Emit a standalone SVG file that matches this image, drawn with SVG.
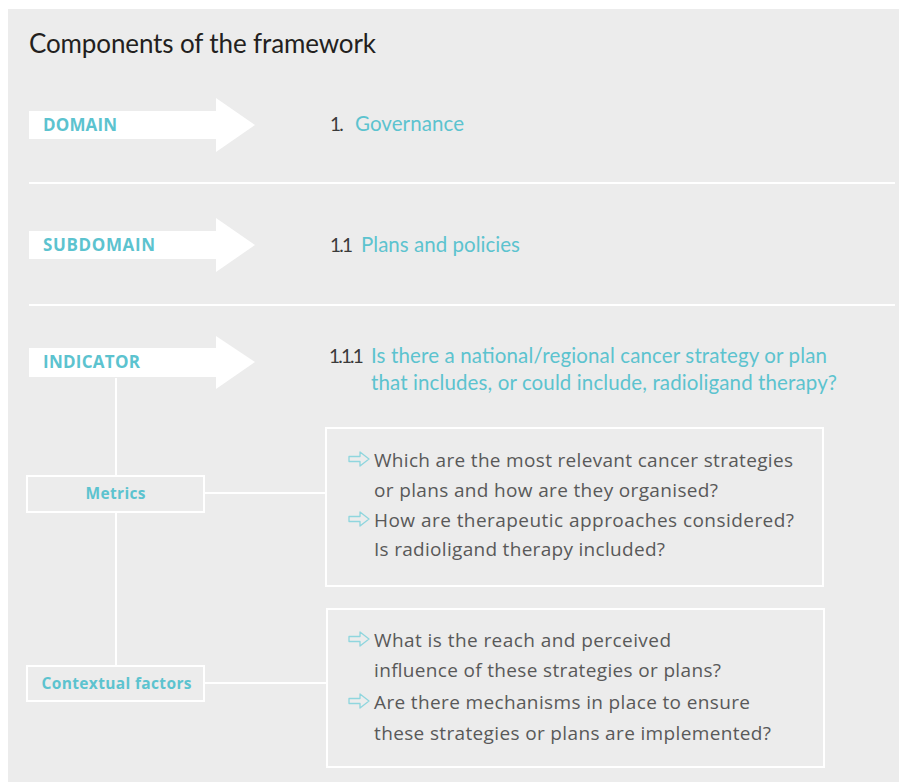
<svg xmlns="http://www.w3.org/2000/svg" width="899" height="782" viewBox="0 0 899 782">
<style>
.bg{fill:#ececec}
.sep{stroke:#ffffff;stroke-width:2}
.conn{stroke:#ffffff;stroke-width:2;fill:none}
.box{fill:none;stroke:#ffffff;stroke-width:2}
.arrow{fill:#ffffff}
.lbl{font-family:"Open Sans","Liberation Sans",sans-serif;font-weight:700;font-size:17px;fill:#5cc3cf}
.slbl{font-family:"Open Sans","Liberation Sans",sans-serif;font-weight:700;font-size:15.5px;fill:#5cc3cf}
.num{font-family:"Lato","Liberation Sans",sans-serif;font-size:19px;letter-spacing:-1.8px;fill:#3a3a3a}
.head{font-family:"Lato","Liberation Sans",sans-serif;font-size:20.5px;fill:#5cc3cf}
.title{font-family:"Lato","Liberation Sans",sans-serif;font-size:26px;fill:#231f20}
.q{font-family:"Open Sans","Liberation Sans",sans-serif;font-size:19px;fill:#595959}
.ico{fill:none;stroke:#8fd6de;stroke-width:1.3;stroke-linejoin:round}
</style>
<defs>
<path id="bullet" class="ico" d="M0,-2.5 H11 V-7 L20,0 L11,7 V2.5 H0 Z"/>
</defs>
<rect class="bg" x="8" y="9" width="891" height="773"/>
<text class="title" x="29" y="53" textLength="347">Components of the framework</text>
<line class="sep" x1="29" y1="183" x2="895" y2="183"/>
<line class="sep" x1="29" y1="305" x2="895" y2="305"/>

<g id="connectors">
<line class="conn" x1="116" y1="378" x2="116" y2="476"/>
<line class="conn" x1="116" y1="512" x2="116" y2="666"/>
<line class="conn" x1="204" y1="493" x2="327" y2="493"/>
<line class="conn" x1="204" y1="683" x2="327" y2="683"/>
</g>

<g id="domain">
<path class="arrow" d="M29,111 H216 V98 L255,125 L216,152 V139 H29 Z"/>
<text class="lbl" x="43" y="131" textLength="74">DOMAIN</text>
<text class="num" x="330" y="131">1.</text>
<text class="head" x="355" y="131" textLength="109">Governance</text>
</g>

<g id="subdomain">
<path class="arrow" d="M29,231 H216 V218 L255,245 L216,272 V259 H29 Z"/>
<text class="lbl" x="43" y="251" textLength="112">SUBDOMAIN</text>
<text class="num" x="330" y="252">1.1</text>
<text class="head" x="361" y="252" textLength="159">Plans and policies</text>
</g>

<g id="indicator">
<path class="arrow" d="M29,348 H216 V336 L255,362 L216,389 V377 H29 Z"/>
<text class="lbl" x="43" y="368" textLength="97">INDICATOR</text>
<text class="num" x="329" y="363">1.1.1</text>
<text class="head" x="371" y="363" textLength="456">Is there a national/regional cancer strategy or plan</text>
<text class="head" x="371" y="390" textLength="466">that includes, or could include, radioligand therapy?</text>
</g>

<g id="metrics">
<rect class="box" x="27" y="476" width="177" height="36"/>
<text class="slbl" x="115.5" y="499" text-anchor="middle" textLength="60">Metrics</text>
</g>

<g id="contextual-factors">
<rect class="box" x="27" y="666" width="177" height="35"/>
<text class="slbl" x="116.5" y="689" text-anchor="middle" textLength="150">Contextual factors</text>
</g>

<g id="metrics-panel">
<rect class="box" x="326" y="428" width="497" height="158"/>
<use href="#bullet" x="349" y="459"/>
<text class="q" x="374" y="467" textLength="419">Which are the most relevant cancer strategies</text>
<text class="q" x="374" y="497" textLength="344">or plans and how are they organised?</text>
<use href="#bullet" x="349" y="519"/>
<text class="q" x="374" y="527" textLength="420">How are therapeutic approaches considered?</text>
<text class="q" x="374" y="556" textLength="291">Is radioligand therapy included?</text>
</g>

<g id="contextual-panel">
<rect class="box" x="327" y="609" width="497" height="158"/>
<use href="#bullet" x="349" y="639"/>
<text class="q" x="374" y="647" textLength="297">What is the reach and perceived</text>
<text class="q" x="374" y="677" textLength="347">influence of these strategies or plans?</text>
<use href="#bullet" x="349" y="701"/>
<text class="q" x="374" y="709" textLength="376">Are there mechanisms in place to ensure</text>
<text class="q" x="374" y="740" textLength="397">these strategies or plans are implemented?</text>
</g>
</svg>
